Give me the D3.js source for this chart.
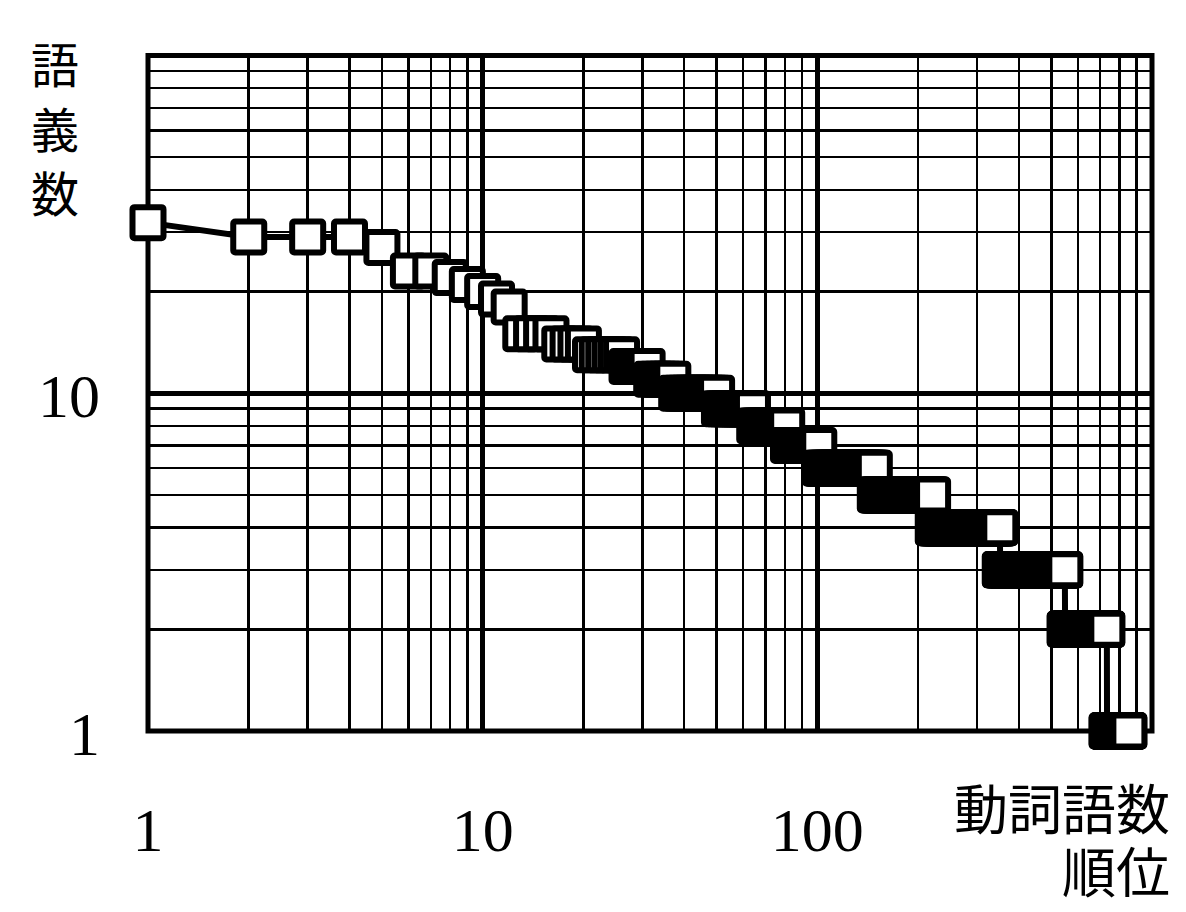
<!DOCTYPE html>
<html lang="ja">
<head>
<meta charset="utf-8">
<title>語義数と動詞語数順位</title>
<script src="https://cdn.jsdelivr.net/npm/d3@7"></script>
<style>
  html, body { margin: 0; padding: 0; background: #fff; }
  svg { display: block; }
  .num { font-family: "Liberation Serif", "DejaVu Serif", serif; font-size: 62px; fill: #000; }
  .ttl { font-family: "Noto Sans CJK JP", sans-serif; font-weight: 400; fill: #000; }
</style>
</head>
<body>
<svg id="chart" width="1186" height="912"></svg>
<script>
// sense counts (語義数) and the last verb rank that has each count
var senseCounts = [32, 29, 27, 23, 22, 21, 20, 19, 18, 15, 14, 13, 12, 11, 10, 9, 8, 7, 6, 5, 4, 3, 2, 1];
var lastRank    = [1, 4, 5, 7, 8, 9, 10, 11, 12, 16, 20, 26, 31, 37, 50, 64, 81, 101, 148, 221, 351, 549, 733, 853];
var xTickLabels = [1, 10, 100];
var yTickLabels = [1, 10];
var yTitle = ["語", "義", "数"];
var xTitle = ["動詞語数", "順位"];

(function() {
    // one point per ranked verb
    var points = [];
    var r = 1;
    senseCounts.forEach(function(s, i) {
        for (; r <= lastRank[i]; r++) points.push({ rank: r, senses: s });
    });

    var plotL = 148, plotR = 1152, plotT = 55.5, plotB = 731;

    var x = d3.scaleLog().domain([1, 1000]).range([plotL, plotR]);
    var y = d3.scaleLog().domain([1, 100]).range([plotB, plotT]);

    var svg = d3.select("#chart");

    function isMajor(v) {
        var l = Math.log10(v);
        return Math.abs(l - Math.round(l)) < 1e-9;
    }

    // grid
    var grid = svg.append("g").attr("stroke", "#000").attr("shape-rendering", "crispEdges");
    grid.selectAll("line.v")
        .data(x.ticks().filter(function(d) { return d > 1 && d < 1000; }))
        .enter().append("line")
            .attr("class", "v")
            .attr("x1", function(d) { return x(d); })
            .attr("x2", function(d) { return x(d); })
            .attr("y1", plotT)
            .attr("y2", plotB)
            .attr("stroke-width", function(d) { return isMajor(d) ? 5 : 2.5; });
    grid.selectAll("line.h")
        .data(y.ticks().filter(function(d) { return d > 1 && d < 100; }))
        .enter().append("line")
            .attr("class", "h")
            .attr("y1", function(d) { return y(d); })
            .attr("y2", function(d) { return y(d); })
            .attr("x1", plotL)
            .attr("x2", plotR)
            .attr("stroke-width", function(d) { return isMajor(d) ? 5 : 2.5; });

    svg.append("rect")
        .attr("x", plotL).attr("y", plotT)
        .attr("width", plotR - plotL).attr("height", plotB - plotT)
        .attr("fill", "none").attr("stroke", "#000").attr("stroke-width", 5);

    // series: line first, then the square markers on top
    var line = d3.line()
        .x(function(d) { return x(d.rank); })
        .y(function(d) { return y(d.senses); });

    svg.append("path")
        .datum(points)
        .attr("d", line)
        .attr("fill", "none")
        .attr("stroke", "#000")
        .attr("stroke-width", 6);

    var side = 31;
    svg.append("g").selectAll("rect")
        .data(points)
        .enter().append("rect")
            .attr("x", function(d) { return x(d.rank) - side / 2; })
            .attr("y", function(d) { return y(d.senses) - side / 2; })
            .attr("width", side)
            .attr("height", side)
            .attr("rx", 2)
            .attr("fill", "#fff")
            .attr("stroke", "#000")
            .attr("stroke-width", 6);

    // tick labels
    svg.selectAll("text.xl")
        .data(xTickLabels)
        .enter().append("text")
            .attr("class", "num xl")
            .attr("x", function(d) { return x(d); })
            .attr("y", 851)
            .attr("text-anchor", "middle")
            .text(function(d) { return d; });

    svg.selectAll("text.yl")
        .data(yTickLabels)
        .enter().append("text")
            .attr("class", "num yl")
            .attr("x", 100)
            .attr("y", function(d) { return y(d) + 24; })
            .attr("text-anchor", "end")
            .text(function(d) { return d; });

    // axis titles
    svg.selectAll("text.yt")
        .data(yTitle)
        .enter().append("text")
            .attr("class", "ttl yt")
            .attr("x", 55)
            .attr("y", function(d, i) { return 62 + i * 64.5; })
            .attr("text-anchor", "middle")
            .attr("dominant-baseline", "central")
            .style("font-size", "48px")
            .text(function(d) { return d; });

    svg.selectAll("text.xt")
        .data(xTitle)
        .enter().append("text")
            .attr("class", "ttl xt")
            .attr("x", 1170)
            .attr("y", function(d, i) { return 806 + i * 63; })
            .attr("text-anchor", "end")
            .attr("dominant-baseline", "central")
            .style("font-size", "54px")
            .text(function(d) { return d; });
})();
</script>
</body>
</html>
